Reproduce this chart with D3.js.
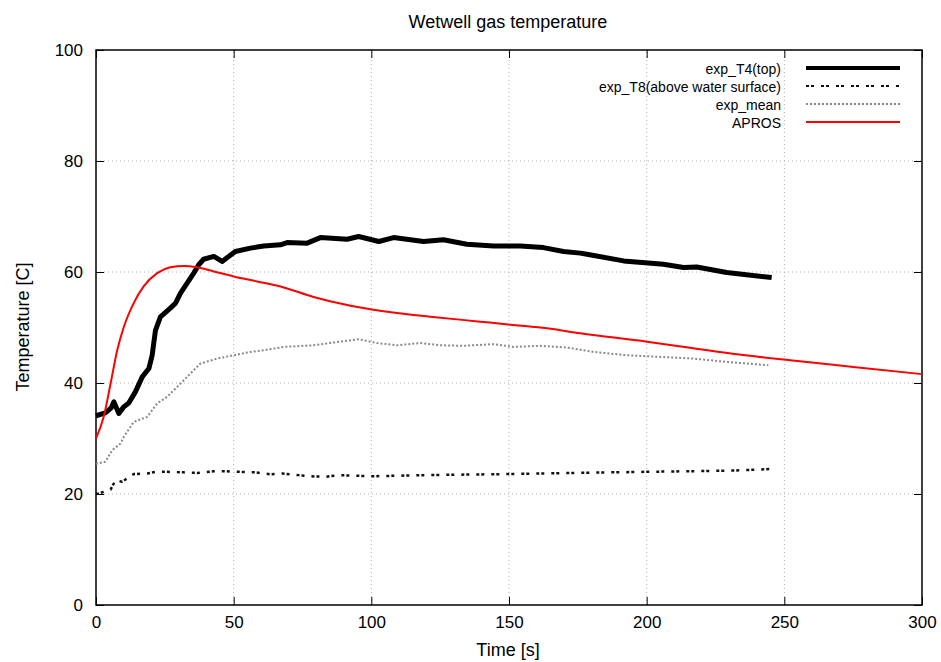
<!DOCTYPE html>
<html>
<head>
<meta charset="utf-8">
<script src="https://cdn.jsdelivr.net/npm/d3@7"></script>
<style>
  html, body { margin: 0; padding: 0; background: #fff; }
  svg text { font-family: "Liberation Sans", Arial, sans-serif; fill: #000; }
</style>
</head>
<body>
<svg id="chart" width="941" height="662"></svg>
<script>
// Axis ticks
const xTicks = [0, 50, 100, 150, 200, 250, 300];
const yTicks = [0, 20, 40, 60, 80, 100];

// exp_T4 (top)
const t4Time = [0, 3.4, 5.5, 6.5, 8.3, 10.1, 11.9, 14.3, 16.8, 19.2, 20.4, 21.6, 23.4, 27.0, 28.9, 30.7, 33.1, 35.5, 37.3, 39.1, 42.8, 45.8, 50.6, 56.1, 60.9, 67.0, 69.4, 76.7, 81.5, 91.2, 95.4, 102.7, 108.1, 119, 126.2, 134.7, 144.4, 154.1, 162.5, 169.8, 175.9, 178.3, 191.6, 206.1, 213.4, 218.2, 229.1, 245.4];
const t4Temp = [34.1, 34.6, 35.5, 36.6, 34.5, 35.7, 36.4, 38.4, 41.1, 42.6, 45.0, 49.5, 51.9, 53.5, 54.4, 56.2, 58.0, 59.8, 61.3, 62.3, 62.8, 61.9, 63.7, 64.3, 64.7, 64.9, 65.3, 65.2, 66.2, 65.9, 66.4, 65.5, 66.2, 65.5, 65.8, 65.0, 64.7, 64.7, 64.4, 63.7, 63.4, 63.2, 62.0, 61.4, 60.8, 60.9, 59.9, 59.0];

// exp_T8 (above water surface)
const t8Time = [0, 1, 5.3, 7.1, 9.5, 10.7, 13.7, 18.6, 21.6, 25.8, 31.9, 36.7, 42.8, 47, 51.8, 57.9, 63.3, 67.6, 73.6, 77.9, 83.3, 88.1, 100, 120, 150, 175, 200, 215, 230, 245];
const t8Temp = [20.0, 20.1, 20.8, 22.5, 22.2, 22.6, 23.6, 23.7, 24.0, 24.0, 23.9, 23.8, 24.1, 24.1, 24.0, 23.9, 23.55, 23.7, 23.4, 23.2, 23.1, 23.4, 23.2, 23.4, 23.6, 23.8, 24.0, 24.1, 24.2, 24.5];

// exp_mean
const meanTime = [0, 0.4, 3.4, 5.9, 8.9, 10.1, 13.7, 18.6, 22.2, 25.8, 30.7, 34.3, 37.9, 44, 50, 56.1, 60.9, 68.2, 79, 86.3, 95.4, 102, 109.3, 117.8, 125, 133.5, 144.4, 151.6, 161.3, 171, 180.7, 192.8, 204.9, 217, 229.1, 244.2];
const meanTemp = [25.4, 25.5, 25.8, 27.9, 29.1, 30.3, 33.0, 33.9, 36.3, 37.5, 39.9, 41.7, 43.5, 44.4, 45.0, 45.6, 45.9, 46.5, 46.8, 47.3, 47.9, 47.2, 46.8, 47.2, 46.8, 46.7, 47.0, 46.5, 46.7, 46.4, 45.6, 45.0, 44.7, 44.4, 43.8, 43.2];

// APROS
const aprosTime = [0, 2.8, 5.3, 7.7, 10.1, 13.7, 17.3, 22.2, 27, 31.9, 36.7, 42.8, 50, 58.5, 67, 79, 91.2, 99.6, 109.3, 121.4, 139.6, 151.6, 163.8, 175.9, 200.1, 217, 235.1, 252.1, 275, 300];
const aprosTemp = [30.0, 33.9, 39.9, 45.9, 50.1, 54.4, 57.4, 59.8, 60.85, 61.1, 60.85, 60.1, 59.2, 58.3, 57.4, 55.5, 54.05, 53.3, 52.6, 51.95, 51.05, 50.45, 49.85, 48.95, 47.45, 46.25, 45.05, 44.1, 42.9, 41.6];

const seriesNames = ["exp_T4(top)", "exp_T8(above water surface)", "exp_mean", "APROS"];

const svg = d3.select("#chart");
const margin = { left: 96, right: 19, top: 50, bottom: 57 };
const W = 941, H = 662;
const x = d3.scaleLinear().domain([0, 300]).range([margin.left, W - margin.right]);
const y = d3.scaleLinear().domain([0, 100]).range([H - margin.bottom, margin.top]);

const zip = (a, b) => a.map((v, i) => [v, b[i]]);

// grid
const grid = svg.append("g");
xTicks.slice(1, -1).forEach(t => {
  grid.append("line").attr("x1", x(t)).attr("x2", x(t)).attr("y1", y(0)).attr("y2", y(100))
    .attr("stroke", "#b0b0b0").attr("stroke-width", 1).attr("stroke-dasharray", "1,3");
});
yTicks.slice(1, -1).forEach(t => {
  grid.append("line").attr("x1", x(0)).attr("x2", x(300)).attr("y1", y(t)).attr("y2", y(t))
    .attr("stroke", "#b0b0b0").attr("stroke-width", 1).attr("stroke-dasharray", "1,3");
});

// axes with inward ticks, mirrored
const xAxisB = d3.axisBottom(x).tickValues(xTicks).tickSizeInner(-8).tickSizeOuter(0).tickPadding(11);
const xAxisT = d3.axisTop(x).tickValues(xTicks).tickSizeInner(-8).tickSizeOuter(0).tickFormat("");
const yAxisL = d3.axisLeft(y).tickValues(yTicks).tickSizeInner(-8).tickSizeOuter(0).tickPadding(13);
const yAxisR = d3.axisRight(y).tickValues(yTicks).tickSizeInner(-8).tickSizeOuter(0).tickFormat("");

function styleAxis(g) {
  g.select(".domain").remove();
  g.selectAll("line").attr("stroke", "#000");
  g.selectAll("text").style("font-size", "17px").attr("font-family", "Liberation Sans, Arial, sans-serif");
}
svg.append("g").attr("transform", `translate(0,${y(0)})`).call(xAxisB).call(styleAxis);
svg.append("g").attr("transform", `translate(0,${y(100)})`).call(xAxisT).call(styleAxis);
svg.append("g").attr("transform", `translate(${x(0)},0)`).call(yAxisL).call(styleAxis);
svg.append("g").attr("transform", `translate(${x(300)},0)`).call(yAxisR).call(styleAxis);

svg.append("rect").attr("x", x(0)).attr("y", y(100)).attr("width", x(300) - x(0)).attr("height", y(0) - y(100))
  .attr("fill", "none").attr("stroke", "#000").attr("stroke-width", 1.5);

const line = d3.line().x(d => x(d[0])).y(d => y(d[1]));
const smooth = d3.line().x(d => x(d[0])).y(d => y(d[1])).curve(d3.curveMonotoneX);

const styles = [
  { color: "#000", width: 5, dash: null, gen: line, data: zip(t4Time, t4Temp) },
  { color: "#111", width: 2.5, dash: "3,2,3,7", gen: line, data: zip(t8Time, t8Temp) },
  { color: "#8a8a8a", width: 2, dash: "2,2", gen: line, data: zip(meanTime, meanTemp) },
  { color: "#ff0000", width: 2, dash: null, gen: smooth, data: zip(aprosTime, aprosTemp) }
];

const plot = svg.append("g");
styles.forEach(s => {
  plot.append("path").attr("d", s.gen(s.data)).attr("fill", "none")
    .attr("stroke", s.color).attr("stroke-width", s.width)
    .attr("stroke-dasharray", s.dash).attr("stroke-linejoin", "round");
});

// legend
const legend = svg.append("g");
seriesNames.forEach((name, i) => {
  const ly = 68 + i * 18;
  legend.append("text").attr("x", 781).attr("y", ly + 6).attr("text-anchor", "end")
    .style("font-size", "15px").attr("textLength", null).text(name);
  legend.append("line").attr("x1", 806).attr("x2", 900).attr("y1", ly).attr("y2", ly)
    .attr("stroke", styles[i].color).attr("stroke-width", i === 0 ? 4 : 2)
    .attr("stroke-dasharray", styles[i].dash);
});
// keep legend labels at their natural width while using the taller glyphs
legend.selectAll("text").each(function () {
  const w = this.getComputedTextLength();
  const target = w * 14 / 15;
  d3.select(this).attr("transform", `translate(781,0) scale(${target / w},1) translate(-781,0)`);
});

// titles
svg.append("text").attr("x", 508).attr("y", 28).attr("text-anchor", "middle").style("font-size", "18px")
  .text("Wetwell gas temperature");
svg.append("text").attr("x", 508).attr("y", 656).attr("text-anchor", "middle").style("font-size", "18px")
  .text("Time [s]");
svg.append("text").attr("transform", `translate(29,327) rotate(-90)`).attr("text-anchor", "middle")
  .style("font-size", "18px").text("Temperature [C]");
</script>
</body>
</html>
